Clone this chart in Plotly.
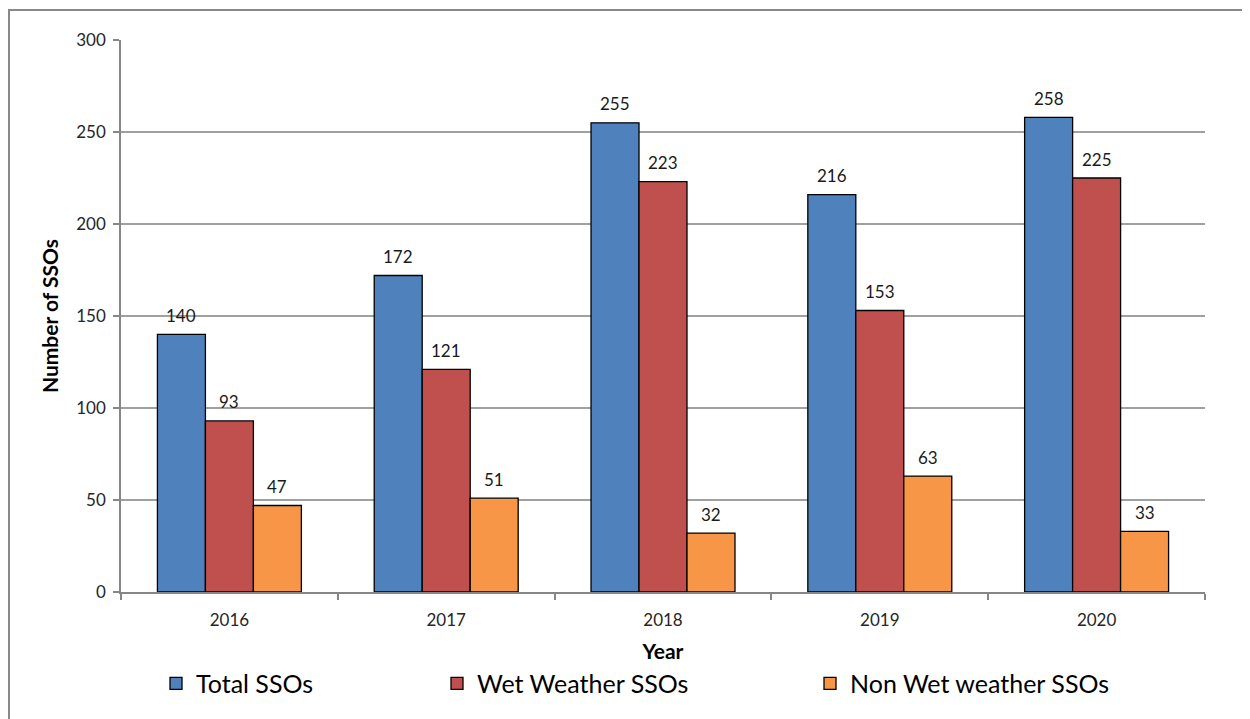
import plotly.graph_objects as go

years = ["2016", "2017", "2018", "2019", "2020"]
total_ssos = [140, 172, 255, 216, 258]
wet_ssos = [93, 121, 223, 153, 225]
non_wet_ssos = [47, 51, 32, 63, 33]

series_names = ["Total SSOs", "Wet Weather SSOs", "Non Wet weather SSOs"]
series_values = [total_ssos, wet_ssos, non_wet_ssos]
series_colors = ["#4F81BD", "#C0504D", "#F79646"]
legend_ids = ["legend", "legend2", "legend3"]

FONT = "Lato, 'Open Sans', sans-serif"

# page body has an 8px margin, so work in screen px and convert
OFF = 8
W, H = 1250 - OFF, 719 - OFF
L = 121 - OFF
T = 40 - OFF
R = 1250 - 1205
B = 719 - 594
pw = W - L - R
ph = H - T - B
BARGAP = 0.336
bar_w = pw / len(years) * (1 - BARGAP) / len(series_names)

def px_x(p):
    return (p - OFF - L) / pw

def px_y(p):
    return (H - B - (p - OFF)) / ph

fig = go.Figure()
for name, vals, col, lg in zip(series_names, series_values, series_colors, legend_ids):
    fig.add_trace(go.Bar(
        x=years, y=vals, name=name,
        marker=dict(color=col, line=dict(color="#000000", width=1.3)),
        legend=lg,
    ))

# value labels: x given as category index (numeric-looking category names
# would otherwise be read as positions)
annotations = []
for i, vals in enumerate(series_values):
    for j, v in enumerate(vals):
        annotations.append(dict(
            x=j, y=v, xref="x", yref="y", text=str(v), showarrow=False,
            xshift=(i - 1) * bar_w, yshift=19, yanchor="middle",
            font=dict(family=FONT, size=17, color="#1a1a1a"),
        ))

legend_common = dict(
    orientation="h", yanchor="middle", xanchor="left",
    font=dict(family=FONT, size=25, color="#000000"),
    bgcolor="rgba(0,0,0,0)",
)

fig.update_layout(
    width=W, height=H,
    margin=dict(l=L, r=R, t=T, b=B),
    paper_bgcolor="white", plot_bgcolor="white",
    showlegend=True,
    barmode="group", bargap=BARGAP, bargroupgap=0,
    font=dict(family=FONT, size=17, color="#262626"),
    xaxis=dict(
        type="category",
        categoryorder="array", categoryarray=years,
        range=[-0.5, len(years) - 0.5],
        title=dict(text="<b>Year</b>", font=dict(family=FONT, size=21, color="#000000"), standoff=15),
        showline=True, linecolor="#868686", linewidth=1.5,
        ticks="outside", tickson="boundaries", ticklen=6, tickcolor="#868686", tickwidth=1.5,
        tickfont=dict(family=FONT, size=17, color="#262626"),
        ticklabelstandoff=12,
        tickangle=0,
        showgrid=False,
    ),
    yaxis=dict(
        title=dict(text="<b>Number of SSOs</b>", font=dict(family=FONT, size=21, color="#000000"), standoff=12),
        range=[0, 300], dtick=50,
        showline=True, linecolor="#868686", linewidth=1.5,
        ticks="outside", ticklen=6, tickcolor="#868686", tickwidth=1.5,
        tickfont=dict(family=FONT, size=17, color="#262626"),
        ticklabelstandoff=4,
        showgrid=True, gridcolor="#A0A0A0", gridwidth=1.5,
        zeroline=False,
    ),
    legend=dict(x=px_x(148 + OFF), y=px_y(686), **legend_common),
    legend2=dict(x=px_x(429 + OFF), y=px_y(686), **legend_common),
    legend3=dict(x=px_x(802 + OFF), y=px_y(686), **legend_common),
    annotations=annotations,
    shapes=[dict(
        type="rect", xref="paper", yref="paper",
        x0=px_x(9), x1=px_x(1300), y0=px_y(780), y1=px_y(10),
        line=dict(color="#888888", width=2), fillcolor="rgba(0,0,0,0)",
        layer="below",
    )],
)

fig.write_html("out.html")
